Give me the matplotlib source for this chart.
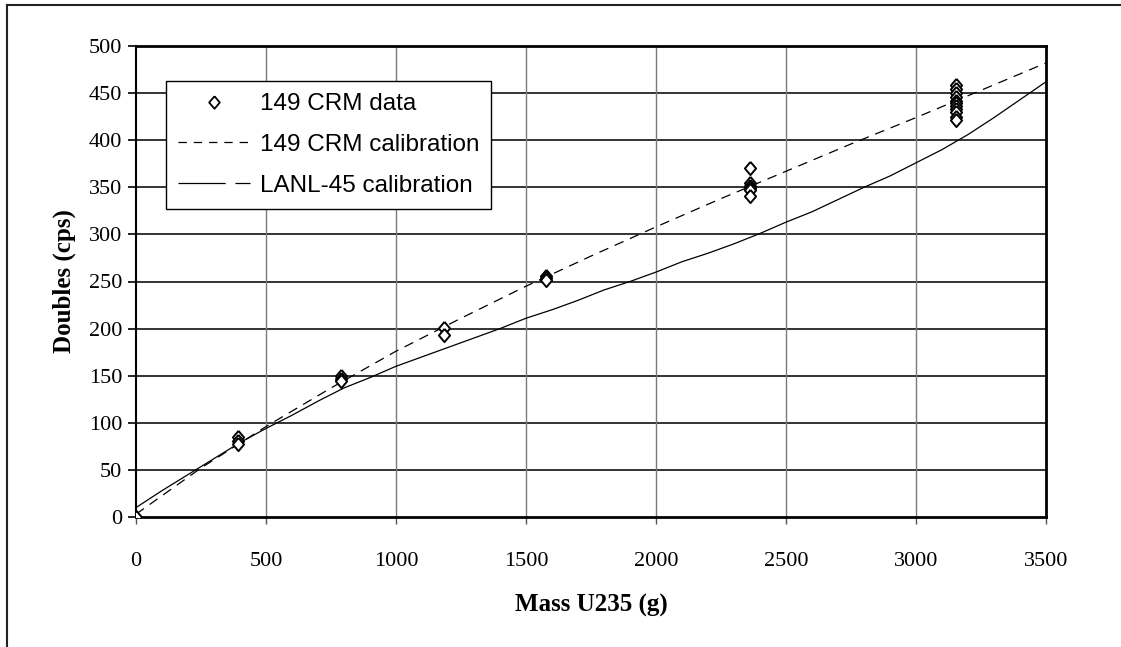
import matplotlib
matplotlib.use("Agg")
import matplotlib.pyplot as plt
from matplotlib.lines import Line2D
import numpy as np

plt.rcParams['lines.scale_dashes'] = False

# ---- data ----
data_mass = [0,
             393, 393, 393,
             787, 787, 787,
             1186, 1186,
             1577, 1577, 1577,
             2361, 2361, 2361, 2361, 2361, 2361,
             3153, 3153, 3153, 3153, 3153, 3153, 3153, 3153, 3153, 3153, 3153]
data_doubles = [0,
                85, 81, 78,
                150, 147, 144,
                201, 193,
                256, 254, 252,
                371, 355, 351, 349, 347, 341,
                459, 454, 450, 446, 442, 439, 436, 433, 430, 425, 421]

cal_mass = [0, 250, 500, 750, 1000, 1250, 1500, 1750, 2000, 2250, 2500, 2750, 3000, 3250, 3500]
cal_149 = [3, 52, 96, 137, 176, 211, 245, 277, 308, 338, 367, 396, 424, 453, 482]

lanl_mass = [0, 100, 200, 300, 400, 500, 600, 700, 800, 900, 1000, 1100, 1200, 1300, 1400,
             1500, 1600, 1700, 1800, 1900, 2000, 2100, 2200, 2300, 2400, 2500, 2600, 2700,
             2800, 2900, 3000, 3100, 3200, 3300, 3400, 3500]
lanl_45 = [10, 28, 45, 62, 79, 94, 108, 123, 137, 148, 160, 170, 180, 190, 200,
           211, 220, 230, 241, 250, 260, 271, 280, 290, 301, 313, 324, 337, 350, 362,
           376, 390, 406, 424, 443, 462]

xticks = [0, 500, 1000, 1500, 2000, 2500, 3000, 3500]
yticks = [0, 50, 100, 150, 200, 250, 300, 350, 400, 450, 500]

W, H = 1121, 647
fig = plt.figure(figsize=(W / 100, H / 100), dpi=100)
ax = fig.add_axes([136 / W, 1 - 517 / H, 910 / W, 471 / H])

serif = ['Liberation Serif', 'DejaVu Serif']
sans = ['Liberation Sans', 'DejaVu Sans']

ax.set_xlim(0, 3500)
ax.set_ylim(0, 500)
ax.set_xticks(xticks)
ax.set_yticks(yticks)
ax.set_xticklabels([str(v) for v in xticks], family=serif, fontsize=16)
ax.set_yticklabels([str(v) for v in yticks], family=serif, fontsize=16)
ax.tick_params(axis='y', direction='out', length=6, width=1.2, pad=4, color='black')
ax.tick_params(axis='x', direction='out', length=5, width=1.0, pad=20, color='#555555')

# grid
for v in yticks[1:-1]:
    ax.axhline(v, color='#111111', lw=1.2, zorder=1)
for v in xticks[1:-1]:
    ax.axvline(v, color='#7a7a7a', lw=1.0, zorder=1)

for s in ['top', 'right', 'bottom', 'left']:
    ax.spines[s].set_linewidth(2.0)
    ax.spines[s].set_color('black')
ax.spines['left'].set_linewidth(1.5)

diamond = [(0, 1), (0.85, 0), (0, -1), (-0.85, 0), (0, 1)]

ax.plot(cal_mass, cal_149, color='black', lw=0.9, linestyle=(0, (7, 5)), zorder=3)
ax.plot(lanl_mass, lanl_45, color='black', lw=0.9, zorder=3)
ax.plot(data_mass, data_doubles, linestyle='none', marker=diamond, markersize=9.5,
        markerfacecolor='white', markeredgecolor='black', markeredgewidth=1.4, zorder=4)

ax.set_xlabel('Mass U235 (g)', family=serif, fontsize=18, fontweight='bold', labelpad=17)
ax.set_ylabel('Doubles (cps)', family=serif, fontsize=18, fontweight='bold', labelpad=9)

h1 = Line2D([], [], linestyle='none', marker=diamond, markersize=9, markerfacecolor='white',
            markeredgecolor='black', markeredgewidth=1.3)
h2 = Line2D([], [], color='black', lw=0.9, linestyle=(0, (6, 5)))
h3 = Line2D([], [], color='black', lw=0.9, linestyle=(0, (34, 7, 11, 100)))
leg = ax.legend([h1, h2, h3], ['149 CRM data', '149 CRM calibration', 'LANL-45 calibration'],
                loc='upper left', bbox_to_anchor=(0.033, 0.926), borderaxespad=0,
                prop={'family': sans, 'size': 17.5}, frameon=True, fancybox=False,
                handlelength=2.95, handletextpad=0.4, labelspacing=0.78,
                borderpad=0.5, framealpha=1)
leg.get_frame().set_edgecolor('black')
leg.get_frame().set_linewidth(1.0)
leg.set_zorder(5)

# outer figure frame (top and left edges)
fig.add_artist(Line2D([7 / W, 1], [1 - 5 / H, 1 - 5 / H], transform=fig.transFigure,
                      color='#222222', lw=1.5))
fig.add_artist(Line2D([7 / W, 7 / W], [0, 1 - 5 / H], transform=fig.transFigure,
                      color='#222222', lw=1.5))

fig.savefig('out.png', dpi=100)
